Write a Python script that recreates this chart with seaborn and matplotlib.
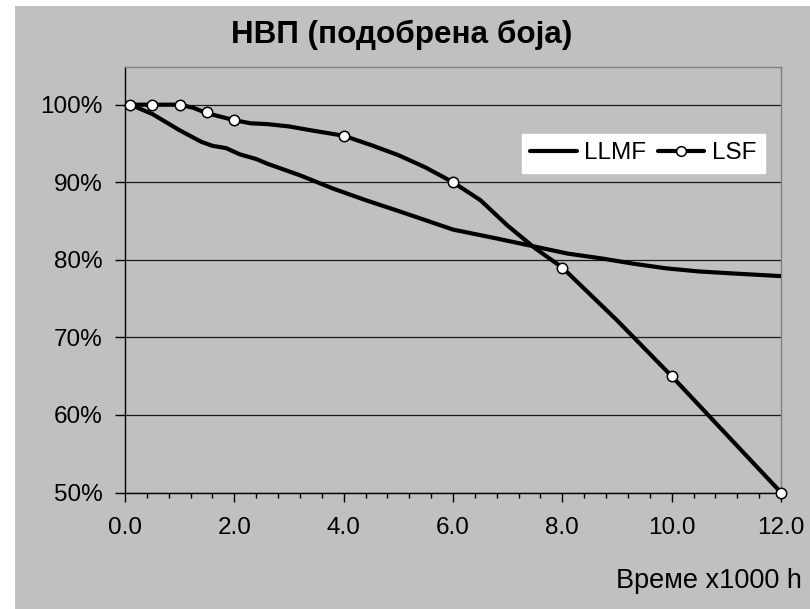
import matplotlib
matplotlib.use("Agg")
import matplotlib.pyplot as plt
from matplotlib.lines import Line2D
from matplotlib.patches import Rectangle
from matplotlib.ticker import MultipleLocator, PercentFormatter, FormatStrFormatter
import pandas as pd
import seaborn as sns

# LLMF curve (no markers)
llmf_x = [0.1, 0.5, 1.0, 1.4, 1.6, 1.85, 2.1, 2.4, 2.6, 3.2, 3.8, 4.4, 5.0, 6.0,
          6.8, 7.5, 8.1, 8.7, 9.3, 9.9, 10.5, 11.1, 12.0]
llmf_y = [1.000, 0.988, 0.967, 0.952, 0.947, 0.944, 0.936, 0.930, 0.924, 0.909,
          0.892, 0.877, 0.863, 0.839, 0.8275, 0.817, 0.808, 0.802, 0.795, 0.789,
          0.785, 0.7825, 0.779]

# LSF smoothed curve
lsf_x = [0.1, 0.5, 1.0, 1.25, 1.5, 2.0, 2.3, 2.6, 3.0, 3.4, 4.0, 4.5, 5.0, 5.5,
         6.0, 6.5, 7.0, 7.5, 8.0, 9.0, 10.0, 11.0, 12.0]
lsf_y = [1.000, 1.000, 1.000, 0.996, 0.989, 0.980, 0.976, 0.975, 0.972, 0.967,
         0.960, 0.948, 0.935, 0.919, 0.900, 0.877, 0.844, 0.815, 0.790, 0.722,
         0.650, 0.575, 0.500]

# LSF marked points
lsf_mx = [0.1, 0.5, 1.0, 1.5, 2.0, 4.0, 6.0, 8.0, 10.0, 12.0]
lsf_my = [1.00, 1.00, 1.00, 0.99, 0.98, 0.96, 0.90, 0.79, 0.65, 0.50]

title = "НВП (подобрена боја)"
xlabel = "Време x1000 h"

gray = "#C0C0C0"
sns.set_theme(style="white", rc={"axes.facecolor": gray, "text.color": "black",
                                 "xtick.color": "black", "ytick.color": "black"})
plt.rcParams["font.family"] = ["Liberation Sans", "DejaVu Sans"]

fig = plt.figure(figsize=(8.1, 6.09), dpi=100)
fig.patch.set_facecolor("white")
fig.add_artist(Rectangle((15 / 810, 0), 1, 1 - 6 / 609, transform=fig.transFigure,
                         facecolor=gray, edgecolor="none", zorder=0))
ax = fig.add_axes([125 / 810, 1 - 492.5 / 609, 656 / 810, 425.8 / 609])
ax.set_facecolor(gray)

df_llmf = pd.DataFrame({"x": llmf_x, "y": llmf_y})
df_lsf = pd.DataFrame({"x": lsf_x, "y": lsf_y})
df_pts = pd.DataFrame({"x": lsf_mx, "y": lsf_my})

sns.lineplot(data=df_llmf, x="x", y="y", ax=ax, color="black", lw=3.0, zorder=3)
sns.lineplot(data=df_lsf, x="x", y="y", ax=ax, color="black", lw=3.0, zorder=3,
             clip_on=False)
sns.scatterplot(data=df_pts, x="x", y="y", ax=ax, color="white", edgecolor="black",
                linewidth=1.1, s=56, zorder=4, clip_on=False)

ax.set_xlim(0, 12)
ax.set_ylim(0.5, 1.049)
ax.xaxis.set_major_locator(MultipleLocator(2))
ax.xaxis.set_minor_locator(MultipleLocator(0.4))
ax.xaxis.set_major_formatter(FormatStrFormatter("%.1f"))
ax.yaxis.set_major_locator(MultipleLocator(0.1))
ax.yaxis.set_major_formatter(PercentFormatter(1.0, decimals=0))
ax.set_xlabel("")
ax.set_ylabel("")

ax.yaxis.grid(True, color="#1a1a1a", lw=0.9)
ax.set_axisbelow(True)

for side in ["left", "bottom"]:
    ax.spines[side].set_color("black")
    ax.spines[side].set_linewidth(1.0)
for side in ["top", "right"]:
    ax.spines[side].set_color("#808080")
    ax.spines[side].set_linewidth(1.0)

ax.tick_params(axis="x", which="major", direction="out", length=6.5, width=1,
               color="black", labelcolor="black", labelsize=17.5, pad=11, bottom=True)
ax.tick_params(axis="x", which="minor", direction="out", length=3.6, width=1,
               color="black", bottom=True)
ax.tick_params(axis="y", which="major", direction="out", length=7, width=1,
               color="black", labelcolor="black", labelsize=17.5, pad=9, left=True)

handles = [
    Line2D([], [], color="black", lw=3.0),
    Line2D([], [], color="black", lw=3.0, marker="o", markersize=7,
           markerfacecolor="white", markeredgecolor="black", markeredgewidth=1.1),
]
leg = ax.legend(handles, ["LLMF", "LSF"], ncol=2, loc="center",
                bbox_to_anchor=(0.79, 0.797), fontsize=17.5, frameon=True,
                fancybox=False, framealpha=1, facecolor="white", edgecolor="white",
                handlelength=1.9, columnspacing=0.5, handletextpad=0.3,
                borderpad=0.35, labelcolor="black")
leg.set_zorder(5)

fig.text(402 / 810, 1 - 43 / 609, title, ha="center", va="baseline",
         fontsize=22.6, fontweight="bold", color="black")
fig.text(802 / 810, 1 - 588 / 609, xlabel, ha="right", va="baseline",
         fontsize=19.5, color="black")

fig.savefig("out.png", dpi=100, facecolor=fig.get_facecolor())
